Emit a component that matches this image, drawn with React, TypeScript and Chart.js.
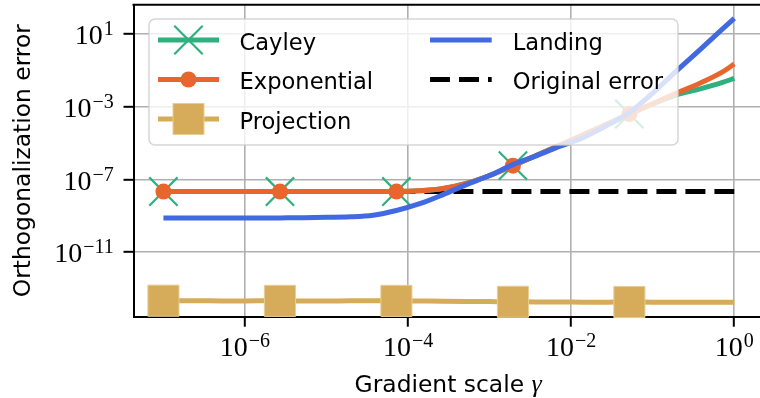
import React, { useEffect, useRef } from 'react';
import { Chart, registerables } from 'chart.js';

Chart.register(...registerables);

// log10 of gradient scale gamma (x positions of the samples)
const gammaExp = [-7, -6.714, -6.429, -6.143, -5.857, -5.571, -5.286, -5, -4.714, -4.429, -4.143, -3.857, -3.571, -3.286, -3, -2.714, -2.429, -2.143, -1.857, -1.571, -1.286, -1, -0.714, -0.429, -0.143, 0];

// log10 of orthogonalization error per series
const cayleyLog = [-7.66, -7.66, -7.66, -7.66, -7.66, -7.66, -7.66, -7.66, -7.66, -7.66, -7.66, -7.62, -7.49, -7.21, -6.78, -6.24, -5.68, -5.12, -4.55, -3.97, -3.4, -2.85, -2.36, -2.03, -1.66, -1.44];
const exponentialLog = [-7.66, -7.66, -7.66, -7.66, -7.66, -7.66, -7.66, -7.66, -7.66, -7.66, -7.66, -7.62, -7.49, -7.21, -6.78, -6.24, -5.68, -5.12, -4.55, -3.97, -3.4, -2.83, -2.26, -1.72, -1.08, -0.65];
const projectionLog = [-13.66, -13.67, -13.67, -13.68, -13.67, -13.67, -13.68, -13.68, -13.67, -13.67, -13.67, -13.68, -13.69, -13.7, -13.71, -13.72, -13.73, -13.73, -13.74, -13.74, -13.73, -13.74, -13.74, -13.75, -13.75, -13.75];
const landingLog = [-9.12, -9.12, -9.12, -9.12, -9.12, -9.11, -9.1, -9.08, -9.05, -8.96, -8.7, -8.33, -7.83, -7.28, -6.78, -6.18, -5.7, -5.18, -4.7, -4.05, -3.32, -2.25, -1.05, 0.1, 1.28, 1.86];
const originalErrorLog = -7.66;

// samples that carry a marker
const markerIdx = [0, 5, 10, 15, 20];

// axes
const xTickExp = [-6, -4, -2, 0];
const yTickExp = [1, -3, -7, -11];
const xRangeExp = [-7.367, 0.35];
const yRangeExp = [-14.54, 2.61];
const xTitle = 'Gradient scale ';
const xTitleSymbol = 'γ';
const yTitle = 'Orthogonalization error';
const legendCol1 = ['Cayley', 'Exponential', 'Projection'];
const legendCol2 = ['Landing', 'Original error'];

const GREEN = '#2fb07f';
const ORANGE = '#e8662e';
const TAN = '#d6ac5a';
const BLUE = '#4169e1';
const SANS = '"DejaVu Sans", sans-serif';
const SERIF = '"Liberation Serif", serif';

function drawMarker(ctx: CanvasRenderingContext2D, ds: any, x: number, y: number) {
  const style = ds.pointStyle;
  if (!style) return;
  ctx.save();
  if (style === 'crossRot') {
    const a = 14.2;
    ctx.strokeStyle = ds.pointBorderColor;
    ctx.lineWidth = ds.pointBorderWidth;
    ctx.beginPath();
    ctx.moveTo(x - a, y - a); ctx.lineTo(x + a, y + a);
    ctx.moveTo(x - a, y + a); ctx.lineTo(x + a, y - a);
    ctx.stroke();
  } else if (style === 'circle') {
    ctx.fillStyle = ds.pointBackgroundColor;
    ctx.beginPath();
    ctx.arc(x, y, 8, 0, Math.PI * 2);
    ctx.fill();
  } else if (style === 'rect') {
    const h = 15.5;
    ctx.fillStyle = ds.pointBackgroundColor;
    ctx.fillRect(x - h, y - h, 2 * h, 2 * h);
    ctx.strokeStyle = ds.pointBorderColor;
    ctx.lineWidth = 1;
    ctx.strokeRect(x - h, y - h, 2 * h, 2 * h);
  }
  ctx.restore();
}

const decorPlugin = {
  id: 'decor',
  afterDatasetsDraw(chart: any) {
    const ctx: CanvasRenderingContext2D = chart.ctx;
    const dsByLabel = (l: string) => chart.data.datasets.find((d: any) => d.label === l);
    ctx.save();
    // legend frame
    const bx = 149, by = 19, bw = 529, bh = 126, r = 6;
    ctx.beginPath();
    ctx.moveTo(bx + r, by);
    ctx.arcTo(bx + bw, by, bx + bw, by + bh, r);
    ctx.arcTo(bx + bw, by + bh, bx, by + bh, r);
    ctx.arcTo(bx, by + bh, bx, by, r);
    ctx.arcTo(bx, by, bx + bw, by, r);
    ctx.closePath();
    ctx.fillStyle = 'rgba(255,255,255,0.8)';
    ctx.fill();
    ctx.strokeStyle = 'rgba(204,204,204,0.8)';
    ctx.lineWidth = 1.5;
    ctx.stroke();

    const cols = [
      { labels: legendCol1, x0: 158, x1: 219, tx: 239.5 },
      { labels: legendCol2, x0: 430, x1: 491.7, tx: 512.7 },
    ];
    const rows = [40, 79.5, 119];
    ctx.font = `22.6px ${SANS}`;
    ctx.textBaseline = 'alphabetic';
    ctx.textAlign = 'left';
    cols.forEach((c) => {
      c.labels.forEach((lab, i) => {
        const ds = dsByLabel(lab);
        const y = rows[i];
        ctx.save();
        ctx.strokeStyle = ds.borderColor;
        ctx.lineWidth = ds.borderWidth;
        ctx.setLineDash(ds.borderDash || []);
        ctx.beginPath();
        ctx.moveTo(c.x0, y);
        ctx.lineTo(c.x1, y);
        ctx.stroke();
        ctx.restore();
        drawMarker(ctx, ds, (c.x0 + c.x1) / 2, y);
        ctx.fillStyle = '#000';
        ctx.fillText(lab, c.tx, y + 9.8);
      });
    });
    ctx.restore();
  },
  afterDraw(chart: any) {
    const ctx: CanvasRenderingContext2D = chart.ctx;
    const a = chart.chartArea;
    const xs = chart.scales.x;
    const ys = chart.scales.y;
    ctx.save();
    // top & right spines
    ctx.strokeStyle = '#000';
    ctx.lineWidth = 2;
    ctx.beginPath();
    ctx.moveTo(a.left - 1, a.top);
    ctx.lineTo(a.right + 1, a.top);
    ctx.moveTo(a.right, a.top);
    ctx.lineTo(a.right, a.bottom);
    ctx.stroke();

    ctx.fillStyle = '#000';
    ctx.textBaseline = 'alphabetic';
    ctx.textAlign = 'left';
    const expText = (e: number) => (e < 0 ? '\u2212' + Math.abs(e) : String(e));
    // x tick labels
    xTickExp.forEach((e) => {
      const px = xs.getPixelForValue(Math.pow(10, e));
      ctx.font = `28px ${SERIF}`;
      const wb = ctx.measureText('10').width;
      ctx.font = `20px ${SERIF}`;
      const we = ctx.measureText(expText(e)).width;
      const start = px - (wb + we + 1) / 2;
      ctx.font = `28px ${SERIF}`;
      ctx.fillText('10', start, a.bottom + 39.3);
      ctx.font = `20px ${SERIF}`;
      ctx.fillText(expText(e), start + wb + 1, a.bottom + 30);
    });
    // y tick labels
    yTickExp.forEach((e) => {
      const py = ys.getPixelForValue(Math.pow(10, e));
      ctx.font = `28px ${SERIF}`;
      const wb = ctx.measureText('10').width;
      ctx.font = `20px ${SERIF}`;
      const we = ctx.measureText(expText(e)).width;
      const start = 113.8 - (wb + we + 1);
      ctx.font = `28px ${SERIF}`;
      ctx.fillText('10', start, py + 10);
      ctx.font = `20px ${SERIF}`;
      ctx.fillText(expText(e), start + wb + 1, py + 1);
    });
    // axis titles
    ctx.font = `23.4px ${SANS}`;
    const w1 = ctx.measureText(xTitle).width;
    ctx.font = `italic 26px ${SERIF}`;
    const w2 = ctx.measureText(xTitleSymbol).width;
    const sx = (a.left + a.right) / 2 - (w1 + w2) / 2;
    ctx.font = `23.4px ${SANS}`;
    ctx.fillText(xTitle, sx, 392);
    ctx.font = `italic 26px ${SERIF}`;
    ctx.fillText(xTitleSymbol, sx + w1, 392);
    ctx.font = `23.4px ${SANS}`;
    ctx.textAlign = 'center';
    ctx.save();
    ctx.translate(29.5, (a.top + a.bottom) / 2);
    ctx.rotate(-Math.PI / 2);
    ctx.fillText(yTitle, 0, 0);
    ctx.restore();
    ctx.restore();
  },
};

export default function App() {
  const ref = useRef<HTMLCanvasElement>(null);
  useEffect(() => {
    const canvas = ref.current as HTMLCanvasElement;
    const toPts = (vals: number[]) => vals.map((v, i) => ({ x: Math.pow(10, gammaExp[i]), y: Math.pow(10, v) }));
    const markerRadius = (r: number) => (c: any) => (markerIdx.includes(c.dataIndex) ? r : 0);
    const last = gammaExp.length - 1;
    const chart = new Chart(canvas, {
      type: 'line',
      data: {
        datasets: [
          {
            label: 'Landing', data: toPts(landingLog), borderColor: BLUE, borderWidth: 5,
            pointRadius: 0, cubicInterpolationMode: 'monotone', clip: false,
          },
          {
            label: 'Exponential', data: toPts(exponentialLog), borderColor: ORANGE, borderWidth: 5,
            pointStyle: 'circle', pointRadius: markerRadius(8), pointBackgroundColor: ORANGE,
            pointBorderColor: ORANGE, pointBorderWidth: 0, cubicInterpolationMode: 'monotone', clip: false,
          },
          {
            label: 'Cayley', data: toPts(cayleyLog), borderColor: GREEN, borderWidth: 5,
            pointStyle: 'crossRot', pointRadius: markerRadius(20), pointBackgroundColor: GREEN,
            pointBorderColor: GREEN, pointBorderWidth: 2.2, cubicInterpolationMode: 'monotone', clip: false,
          },
          {
            label: 'Projection', data: toPts(projectionLog), borderColor: TAN, borderWidth: 5,
            pointStyle: 'rect', pointRadius: markerRadius(22), pointBackgroundColor: TAN,
            pointBorderColor: '#e8cd94', pointBorderWidth: 1, cubicInterpolationMode: 'monotone', clip: false,
          },
          {
            label: 'Original error',
            data: [
              { x: Math.pow(10, gammaExp[0]), y: Math.pow(10, originalErrorLog) },
              { x: Math.pow(10, gammaExp[last]), y: Math.pow(10, originalErrorLog) },
            ],
            borderColor: '#000', borderWidth: 5, borderDash: [20, 9], pointRadius: 0, clip: false,
          },
        ] as any,
      },
      options: {
        responsive: false,
        animation: false,
        devicePixelRatio: 1,
        events: [],
        layout: { autoPadding: false, padding: { left: 0, top: 4.7, right: 770 - 762.8, bottom: 0 } },
        plugins: { legend: { display: false }, tooltip: { enabled: false } },
        scales: {
          x: {
            type: 'logarithmic',
            bounds: 'data',
            min: Math.pow(10, xRangeExp[0]),
            max: Math.pow(10, xRangeExp[1]),
            afterBuildTicks: (s: any) => { s.ticks = xTickExp.map((e) => ({ value: Math.pow(10, e) })); },
            afterFit: (s: any) => { s.height = 398 - 316.7; },
            ticks: { display: false },
            grid: { color: '#b0b0b0', lineWidth: 1.6, drawTicks: true, tickLength: 10, tickColor: '#000', tickWidth: 2 },
            border: { display: true, color: '#000', width: 2 },
          },
          y: {
            type: 'logarithmic',
            bounds: 'data',
            min: Math.pow(10, yRangeExp[0]),
            max: Math.pow(10, yRangeExp[1]),
            afterBuildTicks: (s: any) => { s.ticks = yTickExp.map((e) => ({ value: Math.pow(10, e) })); },
            afterFit: (s: any) => { s.width = 133.5; },
            ticks: { display: false },
            grid: { color: '#b0b0b0', lineWidth: 1.6, drawTicks: true, tickLength: 10, tickColor: '#000', tickWidth: 2 },
            border: { display: true, color: '#000', width: 2 },
          },
        },
      } as any,
      plugins: [decorPlugin],
    });
    return () => chart.destroy();
  }, []);
  return (
    <div style={{ position: 'fixed', left: 0, top: 0, width: 760, height: 398, overflow: 'hidden', background: '#fff' }}>
      <canvas ref={ref} width={770} height={398} style={{ display: 'block' }} />
    </div>
  );
}
